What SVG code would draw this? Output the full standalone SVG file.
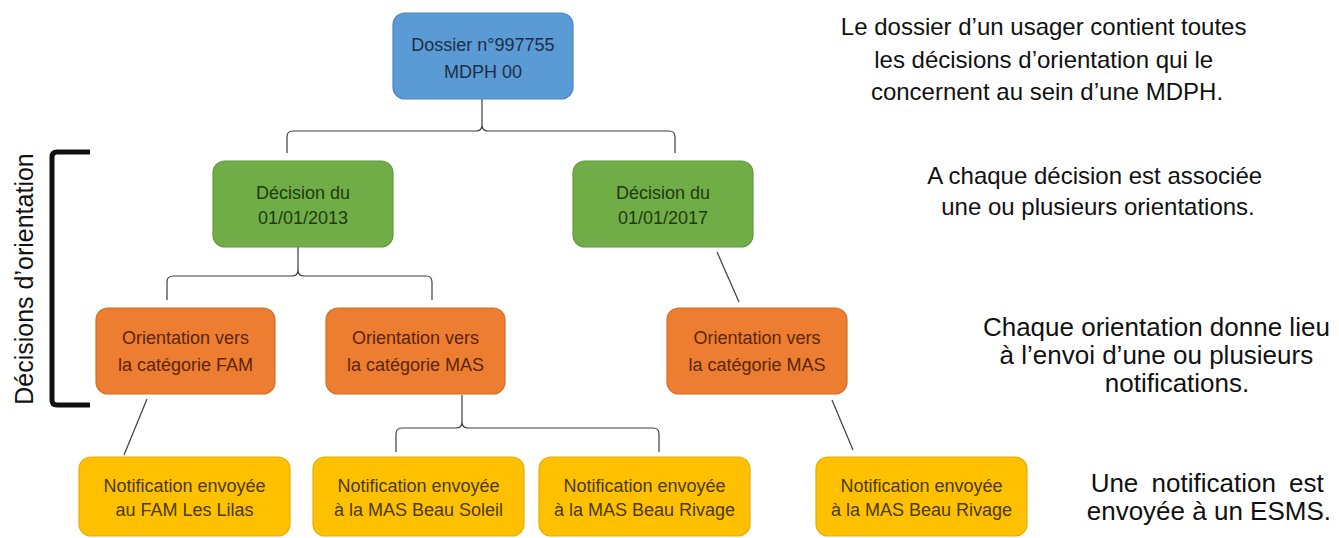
<svg xmlns="http://www.w3.org/2000/svg" width="1339" height="538" viewBox="0 0 1339 538">
<style>
  .box text { font-family: "Liberation Sans", Arial, sans-serif; font-size: 18px; text-anchor: middle; }
  .blue rect { fill: #5B9BD5; stroke: #4A86BE; stroke-width: 1.2; }
  .blue text { fill: #1D2E47; }
  .green rect { fill: #70AD47; stroke: #5F9A3A; stroke-width: 1.2; }
  .green text { fill: #1E3A12; }
  .orange rect { fill: #ED7D31; stroke: #D56D25; stroke-width: 1.2; }
  .orange text { fill: #5A2608; }
  .yellow rect { fill: #FFC000; stroke: #E8AE00; stroke-width: 1.2; }
  .yellow text { fill: #4A3A10; }
  .conn path, .conn line { fill: none; stroke: #3C3C3C; stroke-width: 1.2; }
  .note { font-family: "Liberation Sans", Arial, sans-serif; fill: #111; }
</style>
<rect width="1339" height="538" fill="#FFFFFF"/>

<g id="connectors" class="conn">
  <path d="M287,153 L287,137 Q287,131 293,131 L476,131 Q482,131 482,125 L482,99 M482,125 Q482,131 488,131 L669,131 Q675,131 675,137 L675,153"/>
  <path d="M167,300 L167,282 Q167,276 173,276 L292,276 Q298,276 298,270 L298,247 M298,270 Q298,276 304,276 L426,276 Q432,276 432,282 L432,300"/>
  <path d="M396,452 L396,434 Q396,428 402,428 L456,428 Q462,428 462,422 L462,395 M462,422 Q462,428 468,428 L653,428 Q659,428 659,434 L659,452"/>
  <line x1="717" y1="252" x2="739" y2="302"/>
  <line x1="147" y1="399" x2="124" y2="455"/>
  <line x1="832" y1="400" x2="853" y2="450"/>
</g>

<g id="dossier" class="box blue">
  <rect x="393" y="13" width="180" height="86" rx="12"/>
  <text x="483" y="51">Dossier n°997755</text>
  <text x="483" y="78">MDPH 00</text>
</g>

<g id="decision2013" class="box green">
  <rect x="213" y="161" width="180" height="86" rx="12"/>
  <text x="303" y="199">Décision du</text>
  <text x="303" y="224">01/01/2013</text>
</g>
<g id="decision2017" class="box green">
  <rect x="573" y="161" width="180" height="86" rx="12"/>
  <text x="663" y="199">Décision du</text>
  <text x="663" y="224">01/01/2017</text>
</g>

<g id="orientFAM" class="box orange">
  <rect x="96" y="308" width="179" height="86" rx="12"/>
  <text x="185.5" y="344">Orientation vers</text>
  <text x="185.5" y="371">la catégorie FAM</text>
</g>
<g id="orientMAS1" class="box orange">
  <rect x="326" y="308" width="179" height="86" rx="12"/>
  <text x="415.5" y="344">Orientation vers</text>
  <text x="415.5" y="371">la catégorie MAS</text>
</g>
<g id="orientMAS2" class="box orange">
  <rect x="667" y="308" width="180" height="86" rx="12"/>
  <text x="757" y="344">Orientation vers</text>
  <text x="757" y="371">la catégorie MAS</text>
</g>

<g id="notifLilas" class="box yellow">
  <rect x="79" y="457" width="211" height="79" rx="12"/>
  <text x="184.5" y="492">Notification envoyée</text>
  <text x="184.5" y="516">au FAM Les Lilas</text>
</g>
<g id="notifSoleil" class="box yellow">
  <rect x="313" y="457" width="211" height="79" rx="12"/>
  <text x="418.5" y="492">Notification envoyée</text>
  <text x="418.5" y="516">à la MAS Beau Soleil</text>
</g>
<g id="notifRivage1" class="box yellow">
  <rect x="539" y="457" width="211" height="79" rx="12"/>
  <text x="644.5" y="492">Notification envoyée</text>
  <text x="644.5" y="516">à la MAS Beau Rivage</text>
</g>
<g id="notifRivage2" class="box yellow">
  <rect x="816" y="457" width="211" height="79" rx="12"/>
  <text x="921.5" y="492">Notification envoyée</text>
  <text x="921.5" y="516">à la MAS Beau Rivage</text>
</g>

<g id="bracket">
  <path d="M90,152 L57,152 Q52,152 52,157 L52,400 Q52,405 57,405 L90,405" fill="none" stroke="#111" stroke-width="5"/>
  <text class="note" transform="translate(33,279) rotate(-90)" font-size="25" text-anchor="middle" fill="#222">Décisions d’orientation</text>
</g>

<g id="notes">
  <text class="note" font-size="24" text-anchor="middle">
    <tspan x="1047" y="35">Le dossier d’un usager contient toutes</tspan>
    <tspan x="1047" y="68">les décisions d’orientation qui le</tspan>
    <tspan x="1047" y="100">concernent au sein d’une MDPH.</tspan>
  </text>
  <text class="note" font-size="24" text-anchor="middle">
    <tspan x="1098" y="184">A chaque décision est associée</tspan>
    <tspan x="1098" y="215">une ou plusieurs orientations.</tspan>
  </text>
  <text class="note" font-size="26" text-anchor="middle">
    <tspan x="1160" y="336">Chaque orientation donne lieu</tspan>
    <tspan x="1160" y="364">à l’envoi d’une ou plusieurs</tspan>
    <tspan x="1177" y="392">notifications.</tspan>
  </text>
  <text class="note" font-size="26" text-anchor="end">
    <tspan x="1331" y="492" word-spacing="6">Une notification est</tspan>
    <tspan x="1331" y="520">envoyée à un ESMS.</tspan>
  </text>
</g>
</svg>
